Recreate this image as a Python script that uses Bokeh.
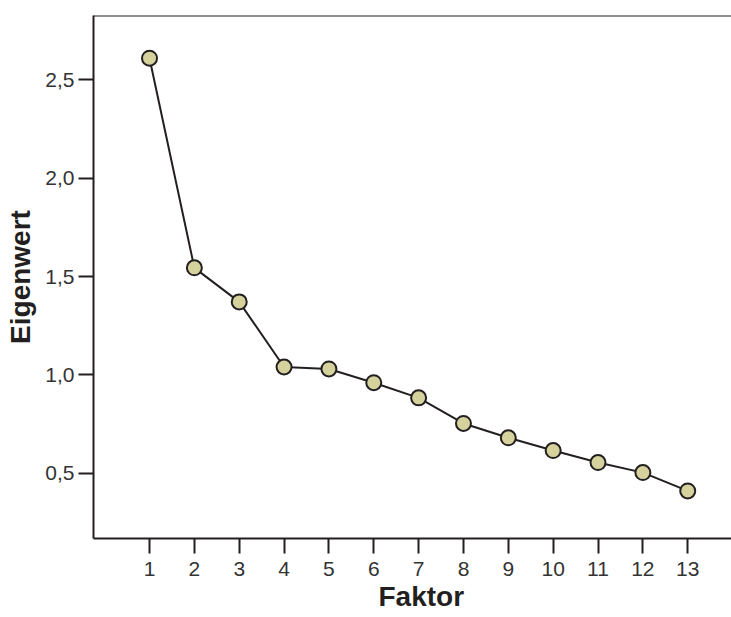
from bokeh.plotting import figure
from bokeh.models import Span, FixedTicker, Range1d, CustomJSTickFormatter, Title
from bokeh.embed import file_html
from bokeh.resources import INLINE

factors = [1, 2, 3, 4, 5, 6, 7, 8, 9, 10, 11, 12, 13]
eigenvalues = [2.61, 1.544, 1.371, 1.04, 1.03, 0.96, 0.883, 0.753, 0.68, 0.615, 0.554, 0.503, 0.41]
y_ticks = [0.5, 1.0, 1.5, 2.0, 2.5]
x_title = "Faktor"
y_title = "Eigenwert"

FONT = "Liberation Sans"
DARK = "#231f20"
Y_START, Y_END = 0.168, 2.827

p = figure(width=731, height=617, output_backend="svg", toolbar_location=None,
           x_range=Range1d(-0.249, 13.976), y_range=Range1d(Y_START, Y_END),
           min_border_left=93, min_border_top=15, min_border_bottom=79, min_border_right=0)
p.outline_line_color = None
p.grid.grid_line_color = None
p.background_fill_color = "white"
p.border_fill_color = "white"

p.add_layout(Span(location=Y_END, dimension="width", line_color=DARK, line_width=2))

p.line(factors, eigenvalues, line_color=DARK, line_width=2)
p.scatter(factors, eigenvalues, size=15, fill_color="#d6d29e", line_color=DARK, line_width=2)

for ax in (p.xaxis[0], p.yaxis[0]):
    ax.axis_line_color = DARK
    ax.axis_line_width = 2
    ax.major_tick_line_color = DARK
    ax.major_tick_line_width = 2
    ax.major_tick_out = 15
    ax.major_tick_in = 0
    ax.minor_tick_line_color = None
    ax.major_label_text_font = FONT
    ax.major_label_text_font_size = "21px"
    ax.major_label_text_color = "#333333"
    ax.axis_label_text_font = FONT
    ax.axis_label_text_font_size = "28px"
    ax.axis_label_text_font_style = "bold"
    ax.axis_label_text_color = DARK

p.xaxis.ticker = FixedTicker(ticks=factors)
p.xaxis.major_label_standoff = 8

p.add_layout(Title(text=x_title, align="left", offset=285, vertical_align="bottom",
                   standoff=0, text_font=FONT, text_font_size="28px",
                   text_font_style="bold", text_color=DARK), "below")

p.yaxis.ticker = FixedTicker(ticks=y_ticks)
p.yaxis.formatter = CustomJSTickFormatter(code="return tick.toFixed(1).replace('.', ',');")
p.yaxis.major_label_standoff = 4
p.yaxis.axis_label = y_title
p.yaxis.axis_label_standoff = 6

open("out.html", "w").write(file_html(p, INLINE))
